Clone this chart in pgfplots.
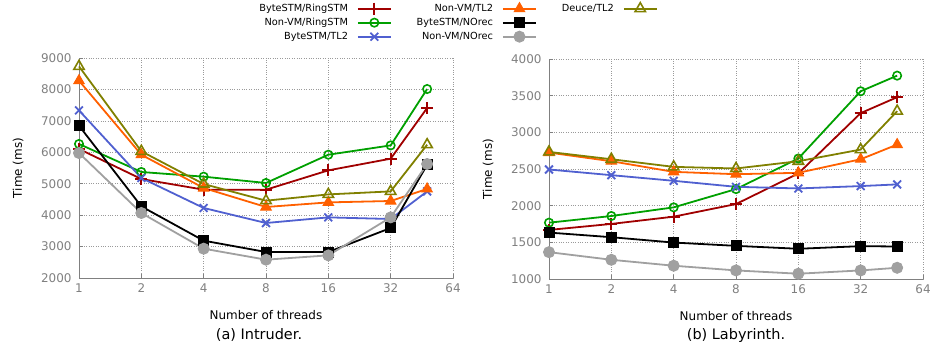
\documentclass[border=0pt]{standalone}
\usepackage{pgfplots}
\pgfplotsset{compat=1.18}
\usepackage{fontspec}
\setmainfont{DejaVu Sans}

\definecolor{cRing}{HTML}{A00000}
\definecolor{cNRing}{HTML}{00A000}
\definecolor{cBTL}{HTML}{5060D0}
\definecolor{cNTL}{HTML}{FF6000}
\definecolor{cBNO}{HTML}{000000}
\definecolor{cNNO}{HTML}{A0A0A0}
\definecolor{cDeuce}{HTML}{808000}
\definecolor{axgray}{HTML}{808080}

\pgfplotsset{
  every axis/.append style={
    scale only axis, width=374bp, height=220bp,
    xmin=1, xmax=64,
    axis x line*=bottom, axis y line*=left,
    axis line style={axgray, line width=0.8bp, -},
    tick style={axgray, line width=0.6bp},
    tick align=inside, major tick length=4bp,
    grid=major, grid style={axgray!80, dotted, line width=0.6bp},
    tick label style={font=\fontsize{12}{14}\selectfont, text=axgray},
    xticklabel style={yshift=-2bp},
    yticklabel style={xshift=-4bp},
    label style={font=\fontsize{12}{14}\selectfont},
    /pgf/number format/assume math mode=true,
    /pgf/number format/1000 sep={},
    scaled y ticks=false,
    xlabel={Number of threads},
    ylabel={Time (ms)},
    xlabel style={at={(axis description cs:0.5,0)}, anchor=center, yshift=-37bp},
    ylabel style={at={(axis description cs:-0.163,0.5)}, anchor=center},
    clip=false,
  },
  every axis plot/.append style={line width=1.8bp},
  legend image code/.code={\draw[mark repeat=2,mark phase=2,#1] plot coordinates {(0bp,0bp) (16.5bp,0bp) (33bp,0bp)};},
}
\tikzset{
  sRing/.style={color=cRing, mark=+, mark size=6bp, mark options={line width=1.8bp}},
  sNRing/.style={color=cNRing, mark=o, mark size=4.2bp, mark options={line width=1.6bp, fill=none}},
  sBTL/.style={color=cBTL, mark=x, mark size=5.5bp, mark options={line width=1.8bp}},
  sNTL/.style={color=cNTL, mark=triangle*, mark size=6bp, mark options={line width=1bp}},
  sBNO/.style={color=cBNO, mark=square*, mark size=5bp, mark options={line width=1bp}},
  sNNO/.style={color=cNNO, mark=*, mark size=5.5bp, mark options={line width=1bp}},
  sDeuce/.style={color=cDeuce, mark=triangle, mark size=6bp, mark options={line width=1.6bp, fill=none}},
}

\begin{document}
\begin{tikzpicture}
\useasboundingbox (0,0) rectangle (933bp,348bp);

\begin{axis}[xmode=log, log basis x=2,
  xtick={1,2,4,8,16,32,64}, xticklabels={1,2,4,8,16,32,64},
  at={(79bp,70bp)}, anchor=south west,
  ymin=2000, ymax=9000, ytick={2000,3000,...,9000},
  legend style={at={(axis description cs:1.012,1.266)}, anchor=north, draw=none, fill=none,
    font=\fontsize{9.8}{12}\selectfont, row sep=0bp,
    nodes={inner ysep=2.1bp, text height=7.5bp, text depth=2.3bp},
    column sep=7bp,
    /tikz/every even column/.append style={column sep=23bp}},
  legend cell align=right, legend plot pos=right,
  legend columns=3]
\addplot[sRing, forget plot] coordinates {(1,6105) (2,5150) (4,4810) (8,4810) (16,5425) (32,5796) (48,7409)};
\addplot[sNRing, forget plot] coordinates {(1,6264) (2,5373) (4,5224) (8,5023) (16,5923) (32,6219) (48,8013)};
\addplot[sBTL, forget plot] coordinates {(1,7333) (2,5182) (4,4228) (8,3750) (16,3929) (32,3877) (48,4756)};
\addplot[sNTL, forget plot] coordinates {(1,8278) (2,5923) (4,4863) (8,4259) (16,4406) (32,4450) (48,4832)};
\addplot[sBNO, forget plot] coordinates {(1,6846) (2,4279) (4,3188) (8,2827) (16,2827) (32,3591) (48,5605)};
\addplot[sNNO, forget plot] coordinates {(1,5977) (2,4068) (4,2933) (8,2583) (16,2720) (32,3929) (48,5627)};
\addplot[sDeuce, forget plot] coordinates {(1,8733) (2,6031) (4,4990) (8,4460) (16,4660) (32,4756) (48,6242)};
\addlegendimage{sRing, line width=1.8bp}\addlegendentry{ByteSTM/RingSTM}
\addlegendimage{sNTL, line width=1.8bp}\addlegendentry{Non-VM/TL2}
\addlegendimage{sDeuce, line width=1.8bp}\addlegendentry{Deuce/TL2}
\addlegendimage{sNRing, line width=1.8bp}\addlegendentry{Non-VM/RingSTM}
\addlegendimage{sBNO, line width=1.8bp}\addlegendentry{ByteSTM/NOrec}
\addlegendimage{empty legend}\addlegendentry{}
\addlegendimage{sBTL, line width=1.8bp}\addlegendentry{ByteSTM/TL2}
\addlegendimage{sNNO, line width=1.8bp}\addlegendentry{Non-VM/NOrec}
\node[font=\fontsize{14.5}{16}\selectfont, xshift=-7bp, yshift=-57bp] at (rel axis cs:0.5,0) {(a) Intruder.};
\end{axis}

\begin{axis}[xmode=log, log basis x=2,
  xtick={1,2,4,8,16,32,64}, xticklabels={1,2,4,8,16,32,64},
  at={(549bp,69bp)}, anchor=south west,
  ymin=1000, ymax=4000, ytick={1000,1500,...,4000}]
\addplot[sRing] coordinates {(1,1669) (2,1751) (4,1850) (8,2022) (16,2439) (32,3262) (48,3479)};
\addplot[sNRing] coordinates {(1,1768) (2,1859) (4,1977) (8,2226) (16,2643) (32,3560) (48,3773)};
\addplot[sBTL] coordinates {(1,2493) (2,2416) (4,2339) (8,2257) (16,2235) (32,2267) (48,2290)};
\addplot[sNTL] coordinates {(1,2724) (2,2606) (4,2461) (8,2429) (16,2448) (32,2633) (48,2833)};
\addplot[sBNO] coordinates {(1,1633) (2,1570) (4,1497) (8,1452) (16,1412) (32,1448) (48,1443)};
\addplot[sNNO] coordinates {(1,1366) (2,1262) (4,1181) (8,1117) (16,1072) (32,1117) (48,1153)};
\addplot[sDeuce] coordinates {(1,2733) (2,2633) (4,2529) (8,2507) (16,2606) (32,2765) (48,3289)};
\node[font=\fontsize{14.5}{16}\selectfont, yshift=-57bp] at (rel axis cs:0.5,0) {(b) Labyrinth.};
\end{axis}
\end{tikzpicture}
\end{document}
